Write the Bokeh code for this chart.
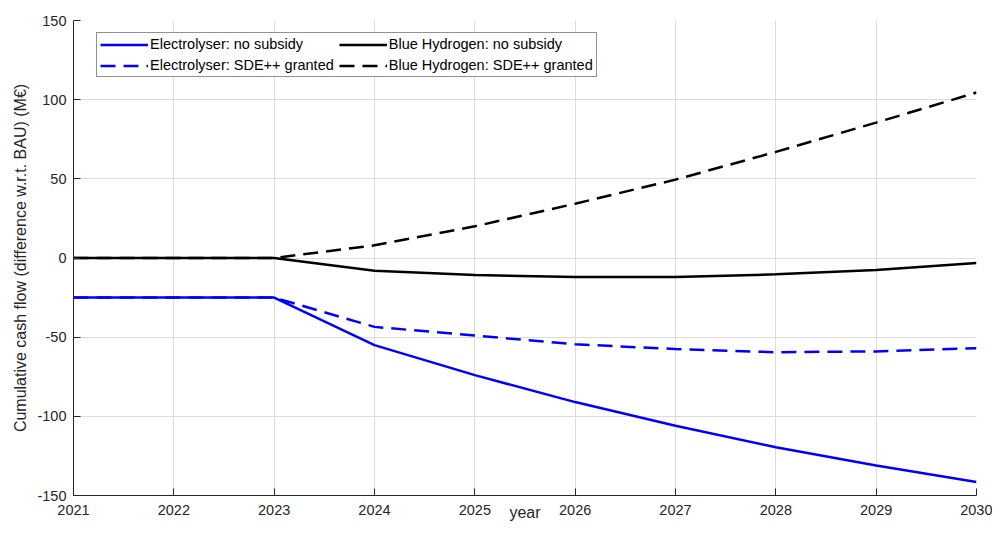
from bokeh.plotting import figure
from bokeh.models import Range1d, FixedTicker, Legend, LegendItem
from bokeh.embed import file_html
from bokeh.resources import INLINE

# ---- data ----
years = [2021, 2022, 2023, 2024, 2025, 2026, 2027, 2028, 2029, 2030]
electrolyser_no_subsidy = [-25, -25, -25, -55, -74, -91, -106, -119.5, -131, -141.5]
electrolyser_sde_granted = [-25, -25, -25, -43.5, -49, -54.5, -57.5, -59.5, -59, -57]
blue_h2_no_subsidy = [0, 0, 0, -8, -10.8, -12, -12, -10.3, -7.6, -3.2]
blue_h2_sde_granted = [0, 0, 0, 8, 20, 34.3, 49.5, 67, 85.5, 104.5]

x_ticks = [2021, 2022, 2023, 2024, 2025, 2026, 2027, 2028, 2029, 2030]
y_ticks = [-150, -100, -50, 0, 50, 100, 150]
y_tick_labels = ["-150", "-100", "-50", "0", "50", "100", "150"]

FONT = "Liberation Sans"
TXT = "#262626"

p = figure(width=992, height=526, output_backend="svg", toolbar_location=None,
           x_range=Range1d(2021, 2030), y_range=Range1d(-150, 150),
           min_border_left=73, min_border_right=16, min_border_top=20, min_border_bottom=31)
p.outline_line_color = None
p.background_fill_color = "white"
p.border_fill_color = "white"

for ax in (p.xaxis[0], p.yaxis[0]):
    ax.axis_line_color = TXT
    ax.major_tick_line_color = TXT
    ax.major_tick_in = 7
    ax.major_tick_out = 0
    ax.minor_tick_line_color = None
    ax.major_label_text_font = FONT
    ax.major_label_text_font_size = "14.5px"
    ax.major_label_text_color = TXT
    ax.axis_label_text_font = FONT
    ax.axis_label_text_font_size = "16px"
    ax.axis_label_text_font_style = "normal"
    ax.axis_label_text_color = TXT

p.xaxis.ticker = FixedTicker(ticks=x_ticks)
p.xaxis.major_label_standoff = 9
p.xaxis.axis_label = "year"
p.xaxis.axis_label_standoff = -14

p.yaxis.ticker = FixedTicker(ticks=y_ticks)
p.yaxis.major_label_overrides = {t: l for t, l in zip(y_ticks, y_tick_labels)}
p.yaxis.major_label_standoff = 7
p.yaxis.axis_label = "Cumulative cash flow (difference w.r.t. BAU) (M\u20ac)"
p.yaxis.axis_label_standoff = 5

p.xgrid.grid_line_color = "#dcdcdc"
p.ygrid.grid_line_color = "#dcdcdc"

dash = "15 8"
r1 = p.line(years, electrolyser_no_subsidy, line_color="#0000ff", line_width=2.5)
r3 = p.line(years, blue_h2_no_subsidy, line_color="#000000", line_width=2.5)
r2 = p.line(years, electrolyser_sde_granted, line_color="#0000ff", line_width=2.5, line_dash=dash)
r4 = p.line(years, blue_h2_sde_granted, line_color="#000000", line_width=2.5, line_dash=dash)

legend = Legend(items=[
    LegendItem(label="Electrolyser: no subsidy", renderers=[r1]),
    LegendItem(label="Electrolyser: SDE++ granted", renderers=[r2]),
    LegendItem(label="Blue Hydrogen: no subsidy", renderers=[r3]),
    LegendItem(label="Blue Hydrogen: SDE++ granted", renderers=[r4]),
], nrows=2, orientation="vertical", location=(23, 418))
legend.label_text_font = FONT
legend.label_text_font_size = "14.5px"
legend.label_text_color = "#000000"
legend.glyph_width = 48
legend.glyph_height = 15
legend.label_height = 15
legend.label_standoff = 2
legend.spacing = 5
legend.padding = 3
legend.margin = 0
legend.border_line_color = TXT
legend.border_line_width = 1
legend.background_fill_color = "white"
legend.background_fill_alpha = 1
p.add_layout(legend, "center")

open("out.html", "w").write(file_html(p, INLINE))
